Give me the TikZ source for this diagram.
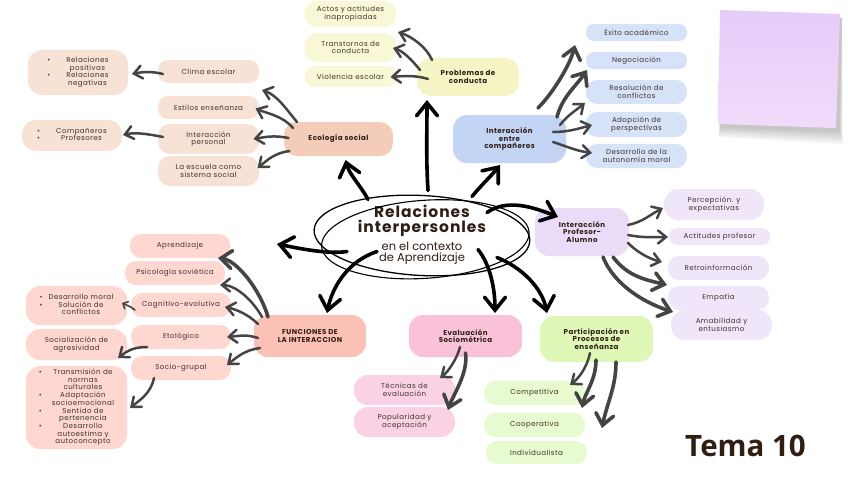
\documentclass[tikz,border=0pt]{standalone}
\usepackage{fontspec}
\setmainfont{Poppins}
\newfontfamily\popsp{Poppins}[LetterSpace=6]
\newfontfamily\poptitle{Poppins}[LetterSpace=6]
\newfontfamily\opensans{Open Sans}
\usetikzlibrary{arrows.meta,calc}
\definecolor{txt}{HTML}{3F322B}
\definecolor{hd}{HTML}{2E1E14}
\definecolor{ecoC}{HTML}{F4CCBA}
\definecolor{ecoL}{HTML}{F8E1D5}
\definecolor{yelC}{HTML}{F5F4C4}
\definecolor{yelL}{HTML}{F8F7D6}
\definecolor{bluC}{HTML}{C3D4F4}
\definecolor{bluL}{HTML}{D6E2F8}
\definecolor{purC}{HTML}{EADCF8}
\definecolor{purL}{HTML}{F0E6F9}
\definecolor{pnkC}{HTML}{FCC1B6}
\definecolor{pnkL}{HTML}{FDD7D0}
\definecolor{magC}{HTML}{F9C2D9}
\definecolor{magL}{HTML}{FBD1E5}
\definecolor{grnC}{HTML}{DFF8B8}
\definecolor{grnL}{HTML}{E8FACF}
\definecolor{arr}{HTML}{444444}
\definecolor{stickA}{HTML}{E6CCF9}
\definecolor{stickB}{HTML}{F2DAFA}
\begin{document}
\begin{tikzpicture}[x=1pt,y=-1pt,
  wh/.style 2 args={minimum width=#1pt, minimum height=#2pt},
  box/.style={rounded corners=10pt, inner sep=1pt, align=center, text=txt,
    font=\popsp\fontsize{7.1}{7.6}\selectfont},
  sbox/.style={box, rounded corners=8pt},
  head/.style={box, text=hd, font=\popsp\bfseries\fontsize{7.1}{7.8}\selectfont},
  main/.style={draw=black, line width=3.6pt, line cap=round,
    -{Straight Barb[length=13pt,width=21pt,line cap=round]}},
  sub/.style={draw=arr, line width=2.5pt, line cap=round,
    -{Straight Barb[length=8pt,width=13pt,line cap=round]}},
  thk/.style={draw=arr, line width=3.6pt, line cap=round,
    -{Straight Barb[length=11pt,width=18pt,line cap=round]}},
  thn/.style={draw=arr, line width=1.6pt, line cap=round,
    -{Straight Barb[length=4pt,width=8pt,line cap=round]}}
]
\useasboundingbox (0,0) rectangle (848,477);
% sticky note
\foreach \i in {1,...,8}{
  \fill[black, opacity=0.03] (722,14) -- (842,18) -- (839+\i*0.5,130+\i*1.8) -- (721-\i*0.3,126+\i*1.4) -- cycle;
}
\shade[top color=stickA, bottom color=stickB] (720,10) -- (840,14) -- (836,128) -- (718,124) -- cycle;

% centre
\node[inner sep=0pt, align=center, text=hd] (core) at (422,234.5)
 {{\poptitle\bfseries\fontsize{15.5}{17}\selectfont Relaciones}\\[2pt]
  {\poptitle\bfseries\fontsize{15.5}{17}\selectfont interpersonles}\\[4pt]
  {\fontsize{11.5}{11.5}\selectfont en el contexto}\\[-1.5pt]
  {\fontsize{11.5}{11.5}\selectfont de Aprendizaje}};
\draw[line width=1.3pt, rotate around={-3:(core.center)}] ($(core.center)+(0,1)$) ellipse (108 and 40);
\draw[line width=1.1pt, rotate around={4:(core.center)}] ($(core.center)+(3,5)$) ellipse (104 and 39);

% Ecologia social
\node[head, fill=ecoC, rounded corners=13pt, wh={109}{34}] (eco) at (338.5,139) {Ecología social};
\node[box, fill=ecoL, wh={101}{23}] (clima) at (208.5,71.5) {Clima escolar};
\node[box, fill=ecoL, wh={101}{23}] (estilos) at (208.5,107.5) {Estilos enseñanza};
\node[box, fill=ecoL, rounded corners=12pt, wh={101}{30}] (interp) at (208.5,139) {Interacción\\personal};
\node[box, fill=ecoL, rounded corners=12pt, wh={101}{30}] (escuela) at (208.5,171) {La escuela como\\sistema social};
\node[box, fill=ecoL, rounded corners=14pt, wh={100}{45}] (relbox) at (78,72.5)
 {\begin{tabular}{@{}c@{\hspace{16pt}}c@{}}\textbullet & Relaciones\\ & positivas\\ \textbullet & Relaciones\\ & negativas\end{tabular}};
\node[box, fill=ecoL, rounded corners=14pt, wh={100}{31}] (comp) at (72,135.5)
 {\begin{tabular}{@{}c@{\hspace{16pt}}c@{}}\textbullet & Compañeros\\ \textbullet & Profesores\end{tabular}};

% Problemas de conducta
\node[head, fill=yelC, rounded corners=14pt, wh={102}{38}] (prob) at (468,77) {Problemas de\\conducta};
\node[box, fill=yelL, rounded corners=12pt, wh={92}{26}] (actos) at (350.5,14) {Actos y actitudes\\inapropiadas};
\node[box, fill=yelL, rounded corners=12pt, wh={92}{29}] (trans) at (350.5,47.5) {Transtornos de\\conducta};
\node[box, fill=yelL, wh={92}{21}] (viol) at (350.5,76.5) {Violencia escolar};

% Interaccion entre companeros
\node[head, fill=bluC, rounded corners=14pt, wh={113}{48}] (comp2) at (509.5,139) {Interacción\\entre\\compañeros};
\node[sbox, fill=bluL, wh={101}{17}] (exito) at (636.5,32.5) {Éxito académico};
\node[sbox, fill=bluL, wh={101}{17}] (neg) at (636.5,60.5) {Negociación};
\node[box, fill=bluL, rounded corners=11pt, wh={101}{24}] (resol) at (636.5,92) {Resolución de\\conflictos};
\node[box, fill=bluL, rounded corners=11pt, wh={101}{25}] (adop) at (636.5,124.5) {Adopción de\\perspectivas};
\node[box, fill=bluL, rounded corners=11pt, wh={101}{24}] (desa) at (636.5,156) {Desarrollo de la\\autonomía moral};

% Interaccion Profesor-Alumno
\node[head, fill=purC, rounded corners=14pt, wh={94}{48}] (prof) at (582,232) {Interacción\\Profesor-\\Alumno};
\node[box, fill=purL, rounded corners=14pt, wh={100}{31}] (perc) at (714,204.5) {Percepción. y\\expectativas};
\node[sbox, fill=purL, wh={101}{17}] (acti) at (719.5,236.5) {Actitudes profesor};
\node[box, fill=purL, rounded corners=11pt, wh={101}{24}] (retro) at (718.5,268) {Retroinformación};
\node[box, fill=purL, rounded corners=11pt, wh={101}{24}] (emp) at (718.5,298) {Empatía};
\node[box, fill=purL, rounded corners=14pt, wh={101}{30}] (amab) at (721.5,325) {Amabilidad y\\entusiasmo};

% Funciones de la interaccion
\node[head, fill=pnkC, rounded corners=14pt, wh={112}{42}] (func) at (310,336) {FUNCIONES DE\\LA INTERACCION};
\node[box, fill=pnkL, rounded corners=11pt, wh={100}{24}] (apr) at (180,246) {Aprendizaje};
\node[box, fill=pnkL, rounded corners=11pt, wh={100}{24}] (psico) at (175,273) {Psicología soviética};
\node[box, fill=pnkL, rounded corners=11pt, wh={100}{24}] (cogn) at (181,305) {Cognitivo-evolutiva};
\node[box, fill=pnkL, rounded corners=11pt, wh={100}{24}] (etol) at (181,337) {Etológico};
\node[box, fill=pnkL, rounded corners=11pt, wh={100}{24}] (socio) at (181,368) {Socio-grupal};
\node[box, fill=pnkL, rounded corners=14pt, wh={101}{39}] (dmoral) at (76.5,305.5)
 {\begin{tabular}{@{}c@{\hspace{6pt}}c@{}}\textbullet & Desarrollo moral\\ \textbullet & Solución de\\ & conflictos\end{tabular}};
\node[box, fill=pnkL, rounded corners=14pt, wh={101}{31}] (sociali) at (76.5,344.5) {Socialización de\\agresividad};
\node[box, fill=pnkL, rounded corners=14pt, wh={101}{83}] (trans2) at (76.5,407.5)
 {\begin{tabular}{@{}c@{\hspace{10pt}}c@{}}\textbullet & Transmisión de\\ & normas\\ & culturales\\ \textbullet & Adaptación\\ & socioemocional\\ \textbullet & Sentido de\\ & pertenencia\\ \textbullet & Desarrollo\\ & autoestima y\\ & autoconcepto\end{tabular}};

% Evaluacion sociometrica
\node[head, fill=magC, rounded corners=14pt, wh={113}{42}] (eval) at (465.5,336) {Evaluación\\Sociométrica};
\node[box, fill=magL, rounded corners=14pt, wh={101}{30}] (tecn) at (404.5,390) {Técnicas de\\evaluación};
\node[box, fill=magL, rounded corners=14pt, wh={101}{30}] (popu) at (404.5,422) {Popularidad y\\aceptación};

% Participacion
\node[head, fill=grnC, rounded corners=14pt, wh={113}{46}] (part) at (596.5,339) {Participación en\\Procesos de\\enseñanza};
\node[box, fill=grnL, rounded corners=11pt, wh={101}{24}] (compt) at (534.5,393) {Competitiva};
\node[box, fill=grnL, rounded corners=11pt, wh={101}{24}] (coop) at (534.5,425) {Cooperativa};
\node[box, fill=grnL, rounded corners=11pt, wh={101}{23}] (indiv) at (536.5,452.5) {Individualista};

% Tema
\node[text=hd, font=\opensans\bfseries\fontsize{29.5}{31}\selectfont, inner sep=0pt] (tema) at (745.5,446) {Tema 10};

\coordinate (lefttip) at (277,244);

% main arrows
\draw[main] ($(core.center)+(-54,-35)$) .. controls +(-8,-15) and +(4,15) .. ($(eco.center)+(7,21)$);
\draw[main] ($(core.center)+(6,-44)$) .. controls +(-2,-30) and +(0,30) .. ($(prob.center)+(-41,23)$);
\draw[main] ($(core.center)+(50,-38)$) .. controls +(8,-10) and +(-8,10) .. ($(comp2.center)+(-9.5,26)$);
\draw[main] ($(core.center)+(65,-22)$) .. controls +(20,-14) and +(-25,-10) .. ($(prof.center)+(-24,-15)$);
\draw[main] ($(core.center)+(-75,17)$) .. controls +(-20,3) and +(20,4) .. (lefttip);
\draw[main] ($(core.center)+(-45,17)$) .. controls +(-30,10) and +(5,-25) .. ($(func.center)+(17,-23)$);
\draw[main] ($(core.center)+(56,15)$) .. controls +(12,15) and +(0,-25) .. ($(eval.center)+(29.5,-23)$);
\draw[main] ($(core.center)+(75,23)$) .. controls +(25,10) and +(-5,-25) .. ($(part.center)+(-49.5,-26)$);

% Ecologia arrows
\draw[sub] ($(eco.center)+(-41.5,-17)$) .. controls +(-10,-12) and +(15,5) .. ($(clima.center)+(53.5,18.5)$);
\draw[sub] ($(eco.center)+(-45.5,-11)$) .. controls +(-10,-12) and +(12,5) .. ($(estilos.center)+(47,1)$);
\draw[sub] ($(eco.center)+(-50,-1)$) .. controls +(-15,-3) and +(12,-2) .. ($(interp.center)+(45,0)$);
\draw[sub] ($(eco.center)+(-49,12)$) .. controls +(-15,2) and +(10,-8) .. ($(escuela.center)+(49,-3)$);
\draw[sub] ($(clima.center)+(-45.5,2.5)$) .. controls +(-12,-3) and +(10,-2) .. ($(relbox.center)+(54,1.5)$);
\draw[sub] ($(interp.center)+(-45.5,-2)$) .. controls +(-15,-3) and +(12,-3) .. ($(comp.center)+(51,-0.5)$);

% Problemas arrows
\draw[sub] ($(prob.center)+(-36,-17)$) .. controls +(-5,-12) and +(15,5) .. ($(actos.center)+(47.5,18)$);
\draw[sub] ($(prob.center)+(-48,-7)$) .. controls +(-8,-10) and +(10,3) .. ($(trans.center)+(42.5,0.5)$);
\draw[sub] ($(prob.center)+(-40,2)$) .. controls +(-12,-4) and +(12,-1) .. ($(viol.center)+(40,0.5)$);

% Companeros arrows
\draw[thk] ($(comp2.center)+(28.5,-31)$) .. controls +(15,-15) and +(-5,20) .. ($(exito.center)+(-61.5,12.5)$);
\draw[thk] ($(comp2.center)+(47.5,-22)$) .. controls +(5,-20) and +(-10,15) .. ($(neg.center)+(-49.5,9.5)$);
\draw[sub] ($(comp2.center)+(50.5,-14)$) .. controls +(8,-10) and +(-10,8) .. ($(resol.center)+(-51.5,11)$);
\draw[sub] ($(comp2.center)+(43.5,-7)$) .. controls +(15,0) and +(-15,4) .. ($(adop.center)+(-44.5,0.5)$);
\draw[sub] ($(comp2.center)+(43.5,3)$) .. controls +(15,5) and +(-15,-2) .. ($(desa.center)+(-44.5,-3)$);

% Profesor arrows
\draw[sub] ($(prof.center)+(46,-7)$) .. controls +(15,-3) and +(-12,6) .. ($(perc.center)+(-51,3.5)$);
\draw[sub] ($(prof.center)+(46,3)$) .. controls +(15,3) and +(-15,0) .. ($(acti.center)+(-51.5,0.5)$);
\draw[sub] ($(prof.center)+(46,11)$) .. controls +(10,10) and +(-12,-3) .. ($(retro.center)+(-56.5,-6)$);
\draw[thk] ($(prof.center)+(31,25)$) .. controls +(15,20) and +(-20,-5) .. ($(emp.center)+(-51.5,-13)$);
\draw[thk] ($(prof.center)+(21,25)$) .. controls +(12,30) and +(-25,-8) .. ($(amab.center)+(-48.5,-13)$);

% Funciones arrows
\draw[thk] ($(func.center)+(-42,-19)$) .. controls +(-8,-28) and +(18,2) .. ($(apr.center)+(38,12)$);
\draw[sub] ($(func.center)+(-48,-19)$) .. controls +(-10,-18) and +(15,0) .. ($(psico.center)+(45,12)$);
\draw[sub] ($(func.center)+(-52,-12)$) .. controls +(-10,-10) and +(10,2) .. ($(cogn.center)+(44,2)$);
\draw[sub] ($(func.center)+(-52,2)$) .. controls +(-12,-4) and +(12,-1) .. ($(etol.center)+(46,0)$);
\draw[sub] ($(func.center)+(-50,12)$) .. controls +(-15,2) and +(10,-8) .. ($(socio.center)+(46,-3)$);
\draw[thn] ($(cogn.center)+(-46,5)$) .. controls +(-5,-4) and +(4,2) .. ($(dmoral.center)+(45.5,-2.5)$);
\draw[sub] ($(etol.center)+(-34,10)$) .. controls +(-15,0) and +(8,-6) .. ($(sociali.center)+(41.5,13.5)$);
\draw[sub] ($(socio.center)+(-27,10)$) .. controls +(-3,15) and +(10,-8) .. ($(trans2.center)+(53.5,0.5)$);

% Evaluacion arrows
\draw[sub] ($(eval.center)+(-5.5,11)$) .. controls +(-3,12) and +(8,-6) .. ($(tecn.center)+(35.5,-12)$);
\draw[thk] ($(eval.center)+(0,17)$) .. controls +(3,20) and +(5,-15) .. ($(popu.center)+(43.5,-12)$);

% Participacion arrows
\draw[sub] ($(part.center)+(-6.5,14)$) .. controls +(-3,15) and +(8,-6) .. ($(compt.center)+(35.5,-8)$);
\draw[thk] ($(part.center)+(-0.5,21)$) .. controls +(0,20) and +(3,-15) .. ($(coop.center)+(47.5,-17)$);
\draw[thk] ($(part.center)+(19.5,23)$) .. controls +(0,25) and +(5,-25) .. ($(indiv.center)+(65.5,-24.5)$);
\end{tikzpicture}
\end{document}
